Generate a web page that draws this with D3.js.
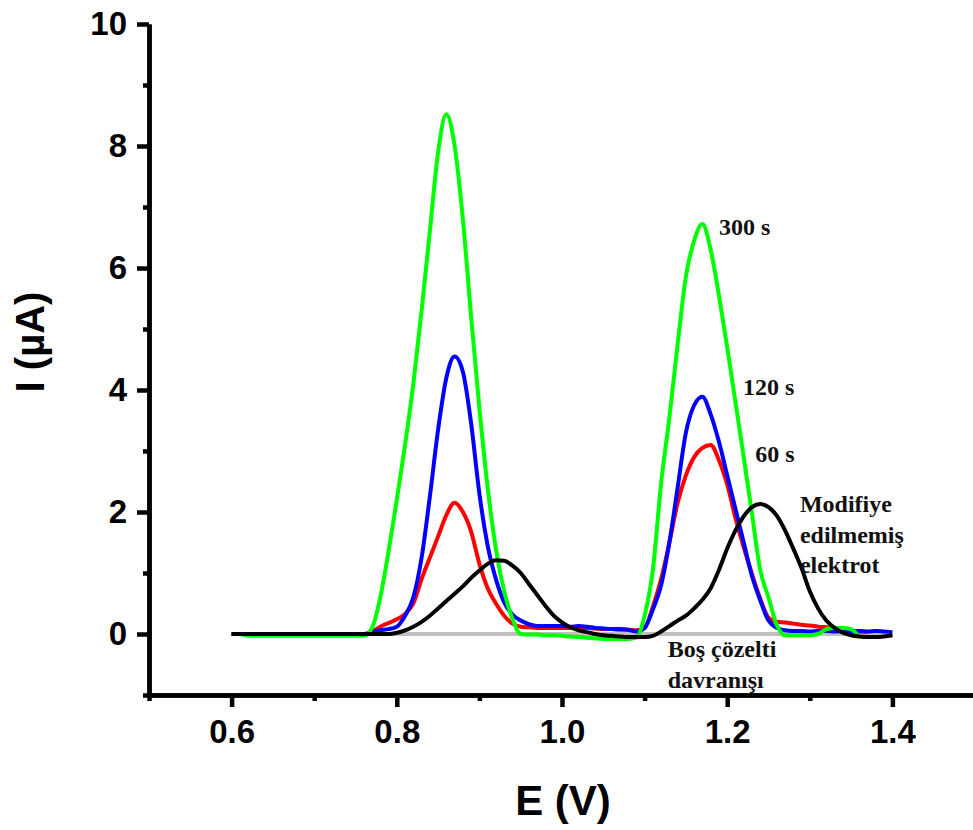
<!DOCTYPE html>
<html>
<head>
<meta charset="utf-8">
<script src="https://cdn.jsdelivr.net/npm/d3@7"></script>
<style>
  html, body { margin: 0; padding: 0; background: #fff; }
  svg { display: block; }
</style>
</head>
<body>
<svg id="chart" width="973" height="830"></svg>
<script>
// ---- Data ----
const potentials = [
  0.60,0.61,0.62,0.63,0.64,0.65,0.66,0.67,0.68,0.69,
  0.70,0.71,0.72,0.73,0.74,0.75,0.76,0.77,0.78,0.79,
  0.80,0.81,0.82,0.83,0.84,0.85,0.86,0.87,0.88,0.89,
  0.90,0.91,0.92,0.93,0.94,0.95,0.96,0.97,0.98,0.99,
  1.00,1.01,1.02,1.03,1.04,1.05,1.06,1.07,1.08,1.09,
  1.10,1.11,1.12,1.13,1.14,1.15,1.16,1.17,1.18,1.19,
  1.20,1.21,1.22,1.23,1.24,1.25,1.26,1.27,1.28,1.29,
  1.30,1.31,1.32,1.33,1.34,1.35,1.36,1.37,1.38,1.39,1.40
];

// Boş çözelti (blank solution)
const blank = [
  0,0,0,0,0,0,0,0,0,0, 0,0,0,0,0,0,0,0,0,0,
  0,0,0,0,0,0,0,0,0,0, 0,0,0,0,0,0,0,0,0,0,
  0,0,0,0,0,0,0,0,0,0, 0,0,0,0,0,0,0,0,0,0,
  0,0,0,0,0,0,0,0,0,0, 0,0,0,0,0,0,0,0,0,0, 0
];

// 60 s (red)
const s60 = [
  0,0,0,0,0,0,0,0,0,0, 0,0,0,0,0,0,0,0.04,0.12,0.18,
  0.24,0.33,0.5,0.9,1.25,1.6,1.95,2.15,2.0,1.68,
  1.15,0.75,0.5,0.3,0.17,0.12,0.11,0.1,0.1,0.1,
  0.1,0.1,0.1,0.1,0.09,0.08,0.08,0.07,0.07,0.06,
  0.1,0.45,0.9,1.5,2.15,2.6,2.9,3.05,3.1,2.85,
  2.45,1.9,1.42,0.98,0.58,0.27,0.2,0.19,0.17,0.15,
  0.14,0.12,0.11,0.1,0.08,0.06,0.04,0.03,null,null,null
];

// 120 s (blue)
const s120 = [
  0,0,0,0,0,0,0,0,0,0, 0,0,0,0,0,0,0,0.03,0.06,0.08,
  0.12,0.3,0.6,1.25,2.25,3.35,4.2,4.55,4.3,3.45,
  2.3,1.45,0.9,0.52,0.32,0.22,0.16,0.13,0.13,0.13,
  0.13,0.12,0.13,0.12,0.1,0.09,0.08,0.08,0.07,0.04,
  0.1,0.4,0.8,1.5,2.4,3.3,3.75,3.89,3.6,3.15,
  2.6,2.05,1.5,0.95,0.55,0.22,0.1,0.06,0.05,0.05,
  0.04,0.05,0.05,0.04,0.05,0.04,0.05,0.04,0.05,0.04,0.03
];

// 300 s (green)
const s300 = [
  0,0,-0.03,-0.03,-0.03,-0.03,-0.03,-0.03,-0.03,-0.03,
  -0.03,-0.03,-0.03,-0.03,-0.03,-0.03,-0.03,0.1,0.6,1.35,
  2.2,3.1,4.1,5.3,6.6,7.9,8.52,8.0,6.8,5.2,
  3.7,2.4,1.4,0.7,0.25,0.0,-0.01,-0.01,-0.02,-0.02,
  -0.03,-0.04,-0.05,-0.06,-0.07,-0.08,-0.08,-0.08,-0.08,-0.06,
  0.3,1.05,2.47,3.55,4.75,5.86,6.45,6.72,6.3,5.55,
  4.7,3.8,2.9,1.97,1.05,0.6,0.15,-0.02,-0.02,-0.02,
  -0.02,0.0,0.08,0.1,0.1,0.08,-0.05,null,null,null,null
];

// Modifiye edilmemiş elektrot (black)
const unmodified = [
  0,0,0,0,0,0,0,0,0,0, 0,0,0,0,0,0,0,0,0,0,
  0.02,0.06,0.12,0.2,0.3,0.42,0.54,0.66,0.78,0.92,
  1.04,1.15,1.21,1.2,1.12,1.0,0.82,0.64,0.46,0.3,
  0.19,0.11,0.06,0.03,0.0,-0.02,-0.03,-0.04,-0.05,-0.05,
  -0.05,-0.03,0.04,0.13,0.22,0.3,0.42,0.56,0.75,1.05,
  1.4,1.7,1.93,2.08,2.13,2.08,1.94,1.7,1.4,1.08,
  0.7,0.42,0.22,0.1,0.02,-0.02,-0.04,-0.05,-0.05,-0.04,-0.02
];

const seriesNames = ["Boş çözelti", "60 s", "120 s", "300 s", "Modifiye edilmemiş elektrot"];
const seriesValues = [blank, s60, s120, s300, unmodified];
const seriesColors = ["#c0c0c0", "#ff0000", "#0000ff", "#00ff00", "#000000"];

const xMajorTicks = [0.6, 0.8, 1.0, 1.2, 1.4];
const xMinorTicks = [0.5, 0.7, 0.9, 1.1, 1.3, 1.5];
const yMajorTicks = [0, 2, 4, 6, 8, 10];
const yMinorTicks = [-1, 1, 3, 5, 7, 9];

const xTitle = "E (V)";
const yTitle = "I (µA)";

// annotation texts with anchor in data space (E, I)
const annotations = [
  { lines: ["300 s"], e: 1.190, i: 6.54 },
  { lines: ["120 s"], e: 1.219, i: 3.92 },
  { lines: ["60 s"], e: 1.234, i: 2.82 },
  { lines: ["Modifiye", "edilmemiş", "elektrot"], e: 1.288, i: 2.0 },
  { lines: ["Boş çözelti", "davranışı"], e: 1.128, i: -0.38 }
];

// ---- Drawing ----
const svg = d3.select("#chart");
const x = d3.scaleLinear().domain([0.5, 1.5]).range([149, 975]);
const y = d3.scaleLinear().domain([-1, 10]).range([695, 24]);

const axisFont = "'Liberation Sans', Arial, sans-serif";
const annoFont = "'Liberation Serif', 'Times New Roman', serif";

// lines
const line = d3.line()
  .defined(d => d[1] !== null)
  .x(d => x(d[0]))
  .y(d => y(d[1]))
  .curve(d3.curveMonotoneX);

seriesValues.forEach((vals, k) => {
  const pts = potentials.map((e, j) => [e, vals[j]]);
  svg.append("path")
    .datum(pts)
    .attr("fill", "none")
    .attr("stroke", seriesColors[k])
    .attr("stroke-width", 4)
    .attr("stroke-linejoin", "round")
    .attr("d", line);
});

// axes
function styleAxis(g, width) {
  g.select(".domain").attr("stroke", "#000").attr("stroke-width", width);
  g.selectAll(".tick line").attr("stroke", "#000").attr("stroke-width", width);
}

const yMinor = svg.append("g").attr("transform", `translate(${x(0.5)},0)`)
  .call(d3.axisLeft(y).tickValues(yMinorTicks).tickSize(6).tickSizeOuter(0).tickFormat(""));
styleAxis(yMinor, 4.5);
const xMinor = svg.append("g").attr("transform", `translate(0,${y(-1)})`)
  .call(d3.axisBottom(x).tickValues(xMinorTicks).tickSize(6).tickSizeOuter(0).tickFormat(""));
styleAxis(xMinor, 4.5);

const yAxis = svg.append("g").attr("transform", `translate(${x(0.5)},0)`)
  .call(d3.axisLeft(y).tickValues(yMajorTicks).tickSize(12).tickSizeOuter(0).tickPadding(10).tickFormat(d3.format("d")));
styleAxis(yAxis, 4.5);
yAxis.selectAll(".tick text")
  .attr("font-family", axisFont).attr("font-weight", "bold").attr("font-size", 33).attr("fill", "#000");

const xAxis = svg.append("g").attr("transform", `translate(0,${y(-1)})`)
  .call(d3.axisBottom(x).tickValues(xMajorTicks).tickSize(12).tickSizeOuter(0).tickPadding(13).tickFormat(d3.format(".1f")));
styleAxis(xAxis, 4.5);
xAxis.selectAll(".tick text")
  .attr("font-family", axisFont).attr("font-weight", "bold").attr("font-size", 33).attr("fill", "#000");

// titles
svg.append("text")
  .attr("x", 563).attr("y", 815)
  .attr("text-anchor", "middle")
  .attr("font-family", axisFont).attr("font-weight", "bold").attr("font-size", 42)
  .text(xTitle);

svg.append("text")
  .attr("transform", "translate(44,342) rotate(-90)")
  .attr("text-anchor", "middle")
  .attr("font-family", axisFont).attr("font-weight", "bold").attr("font-size", 40)
  .text(yTitle);

// annotations
annotations.forEach(a => {
  const t = svg.append("text")
    .attr("x", x(a.e)).attr("y", y(a.i))
    .attr("font-family", annoFont).attr("font-weight", "bold").attr("font-size", 24)
    .attr("fill", "#111");
  a.lines.forEach((ln, k) => {
    t.append("tspan").attr("x", x(a.e)).attr("dy", k === 0 ? 0 : 30.5).text(ln);
  });
});
</script>
</body>
</html>
